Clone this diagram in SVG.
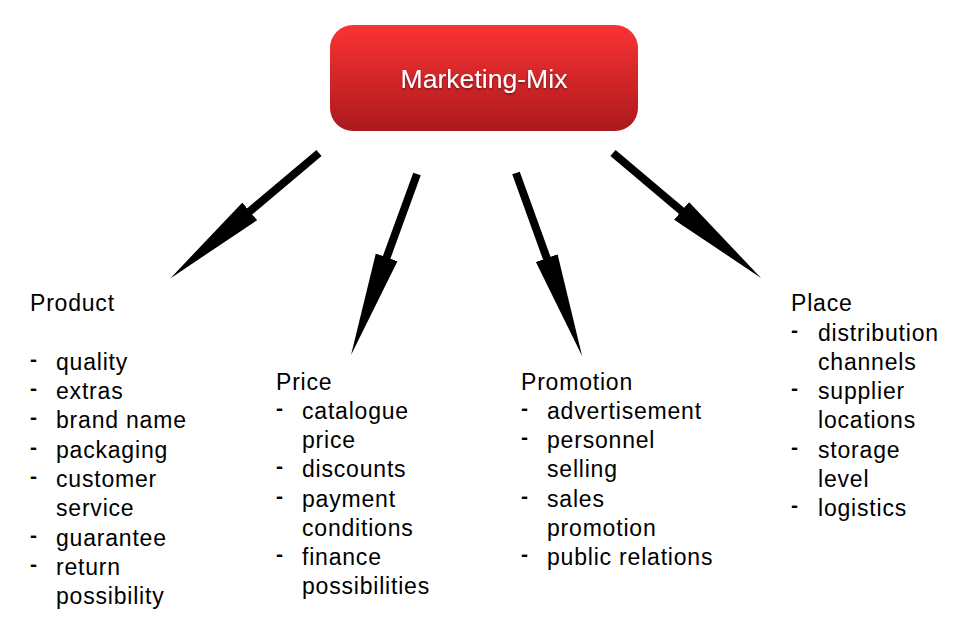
<svg xmlns="http://www.w3.org/2000/svg" width="964" height="634" viewBox="0 0 964 634">
<defs>
<linearGradient id="red" x1="0" y1="0" x2="0" y2="1">
<stop offset="0" stop-color="#fa3333"/>
<stop offset="1" stop-color="#ab1a1e"/>
</linearGradient>
<filter id="ts" x="-10%" y="-30%" width="120%" height="160%">
<feDropShadow dx="0" dy="1.5" stdDeviation="1.2" flood-color="#000" flood-opacity="0.45"/>
</filter>
<marker id="head" markerUnits="userSpaceOnUse" markerWidth="106" markerHeight="24" refX="1" refY="12" orient="auto">
<path d="M0,0.5 L104,12 L0,23.5 z" fill="#000"/>
</marker>
</defs>
<style>
.t{font-family:"Liberation Sans",Arial,Helvetica,sans-serif;font-size:23px;letter-spacing:0.8px;fill:#000}
.d{font-family:"Liberation Sans",Arial,Helvetica,sans-serif;font-size:21px;font-weight:bold;fill:#000}
.c{stroke:#000;stroke-width:8;fill:none;stroke-linecap:butt}
</style>
<rect width="964" height="634" fill="#fff"/>
<g id="marketing-mix">
<rect x="330" y="25" width="308" height="106" rx="23" ry="23" fill="url(#red)"/>
<text x="484" y="88" text-anchor="middle" font-family="'Liberation Sans',Arial,Helvetica,sans-serif" font-size="26.6" fill="#fff" filter="url(#ts)">Marketing-Mix</text>
</g>
<g id="connectors">
<line class="c" x1="319" y1="153" x2="249" y2="212" marker-end="url(#head)"/>
<line class="c" x1="417" y1="174" x2="386.3" y2="258.3" marker-end="url(#head)"/>
<line class="c" x1="516" y1="173" x2="547.1" y2="259.1" marker-end="url(#head)"/>
<line class="c" x1="613" y1="153" x2="682.3" y2="211.5" marker-end="url(#head)"/>
</g>
<g id="product">
<text class="t" x="30" y="311">Product</text>
<g class="d">
<text x="30" y="366">-</text><text x="30" y="395">-</text><text x="30" y="424">-</text><text x="30" y="454">-</text><text x="30" y="483">-</text><text x="30" y="542">-</text><text x="30" y="571">-</text>
</g>
<text class="t" x="56" y="370">quality</text>
<text class="t" x="56" y="399">extras</text>
<text class="t" x="56" y="428">brand name</text>
<text class="t" x="56" y="458">packaging</text>
<text class="t" x="56" y="487">customer</text>
<text class="t" x="56" y="516">service</text>
<text class="t" x="56" y="546">guarantee</text>
<text class="t" x="56" y="575">return</text>
<text class="t" x="56" y="604">possibility</text>
</g>
<g id="price">
<text class="t" x="276" y="390">Price</text>
<g class="d">
<text x="276" y="415">-</text><text x="276" y="473">-</text><text x="276" y="503">-</text><text x="276" y="561">-</text>
</g>
<text class="t" x="302" y="419">catalogue</text>
<text class="t" x="302" y="448">price</text>
<text class="t" x="302" y="477">discounts</text>
<text class="t" x="302" y="507">payment</text>
<text class="t" x="302" y="536">conditions</text>
<text class="t" x="302" y="565">finance</text>
<text class="t" x="302" y="594">possibilities</text>
</g>
<g id="promotion">
<text class="t" x="521" y="390">Promotion</text>
<g class="d">
<text x="521" y="415">-</text><text x="521" y="444">-</text><text x="521" y="503">-</text><text x="521" y="561">-</text>
</g>
<text class="t" x="547" y="419">advertisement</text>
<text class="t" x="547" y="448">personnel</text>
<text class="t" x="547" y="477">selling</text>
<text class="t" x="547" y="507">sales</text>
<text class="t" x="547" y="536">promotion</text>
<text class="t" x="547" y="565">public relations</text>
</g>
<g id="place">
<text class="t" x="791" y="311">Place</text>
<g class="d">
<text x="791" y="337">-</text><text x="791" y="395">-</text><text x="791" y="454">-</text><text x="791" y="512">-</text>
</g>
<text class="t" x="818" y="341">distribution</text>
<text class="t" x="818" y="370">channels</text>
<text class="t" x="818" y="399">supplier</text>
<text class="t" x="818" y="428">locations</text>
<text class="t" x="818" y="458">storage</text>
<text class="t" x="818" y="487">level</text>
<text class="t" x="818" y="516">logistics</text>
</g>
</svg>
